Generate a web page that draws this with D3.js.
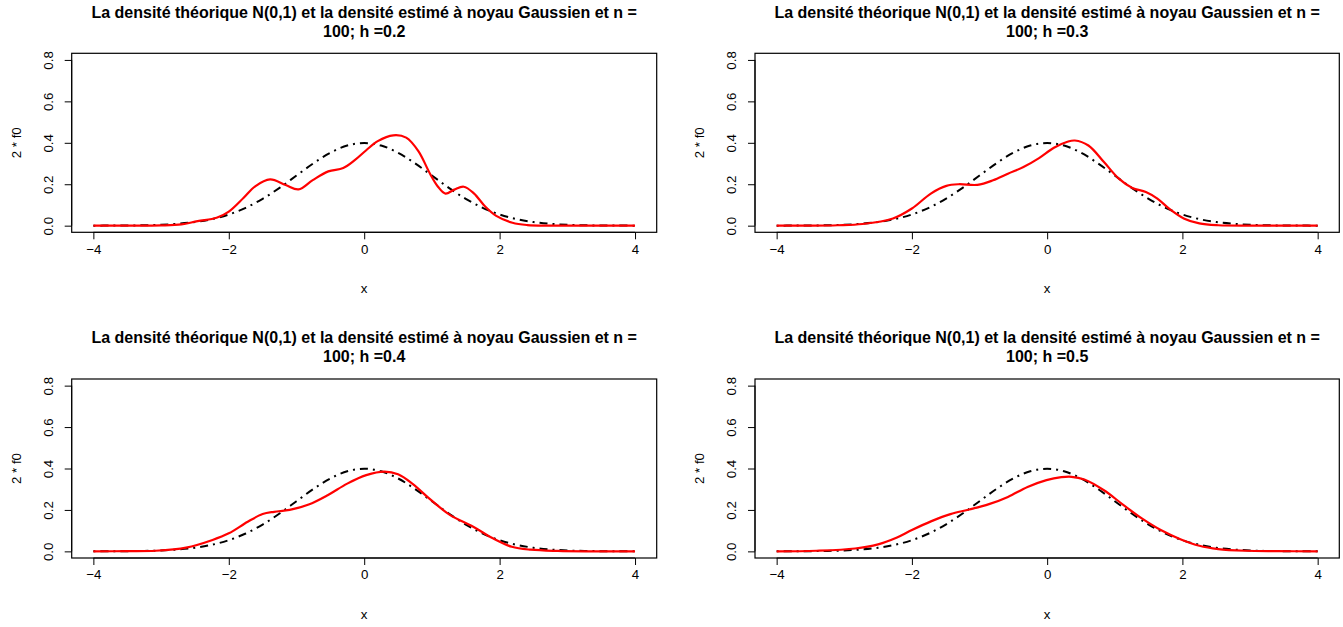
<!DOCTYPE html>
<html>
<head>
<meta charset="utf-8">
<script src="https://cdn.jsdelivr.net/npm/d3@7"></script>
<style>
body { margin:0; background:#fff; }
svg { font-family: "Liberation Sans", Arial, sans-serif; }
</style>
</head>
<body>
<div id="chart"></div>
<script>
// tick values
var xTicks = [-4, -2, 0, 2, 4];
var yTicks = [0, 0.2, 0.4, 0.6, 0.8];
var bandwidths = ["0.2", "0.3", "0.4", "0.5"];

// theoretical N(0,1) density, read at 0.25 steps
var normX = [-4,-3.75,-3.5,-3.25,-3,-2.75,-2.5,-2.25,-2,-1.75,-1.5,-1.25,-1,-0.75,-0.5,-0.25,0,
             0.25,0.5,0.75,1,1.25,1.5,1.75,2,2.25,2.5,2.75,3,3.25,3.5,3.75,4];
var normY = [0.0001,0.0004,0.0009,0.002,0.0044,0.0091,0.0175,0.0317,0.054,0.0863,0.1295,0.1826,0.242,0.3011,0.3521,0.3867,0.3989,
             0.3867,0.3521,0.3011,0.242,0.1826,0.1295,0.0863,0.054,0.0317,0.0175,0.0091,0.0044,0.002,0.0009,0.0004,0.0001];

// kernel estimates [x, y]
var est02 = [[-4,0],[-3.5,0],[-3,0.001],[-2.7,0.006],[-2.46,0.022],[-2.18,0.038],[-2.0,0.068],[-1.78,0.135],[-1.61,0.19],
  [-1.39,0.223],[-1.16,0.196],[-0.97,0.175],[-0.76,0.22],[-0.53,0.262],[-0.31,0.278],[-0.14,0.316],[0.03,0.364],[0.2,0.408],
  [0.43,0.436],[0.62,0.425],[0.8,0.36],[0.97,0.252],[1.09,0.188],[1.2,0.155],[1.33,0.174],[1.47,0.188],[1.62,0.156],
  [1.79,0.091],[1.95,0.047],[2.19,0.014],[2.41,0.003],[2.7,0],[3,0],[3.5,0],[4,0]];
var est03 = [[-4,0],[-3.5,0],[-3.1,0.002],[-2.73,0.008],[-2.28,0.035],[-2.0,0.083],[-1.72,0.155],[-1.49,0.192],[-1.31,0.2],
  [-1.03,0.197],[-0.8,0.219],[-0.58,0.251],[-0.35,0.283],[-0.12,0.326],[0.1,0.376],[0.3,0.405],[0.41,0.411],[0.61,0.387],
  [0.84,0.307],[1.06,0.227],[1.26,0.182],[1.46,0.163],[1.63,0.131],[1.8,0.083],[2.02,0.035],[2.25,0.011],[2.53,0.002],
  [3,0],[3.5,0],[4,0]];
var est04 = [[-4,0],[-3.5,0.001],[-3.08,0.003],[-2.63,0.018],[-2.24,0.055],[-2.0,0.087],[-1.72,0.143],[-1.5,0.18],[-1.33,0.191],
  [-1.1,0.2],[-0.82,0.226],[-0.54,0.271],[-0.25,0.327],[0.03,0.368],[0.3,0.385],[0.5,0.372],[0.71,0.327],[0.99,0.247],
  [1.27,0.175],[1.61,0.119],[1.9,0.063],[2.18,0.022],[2.46,0.008],[2.86,0.002],[3.3,0],[4,0]];
var est05 = [[-4,0],[-3.41,0.003],[-2.84,0.014],[-2.5,0.034],[-2.22,0.067],[-2.0,0.103],[-1.71,0.146],[-1.43,0.18],[-1.15,0.202],
  [-0.86,0.228],[-0.58,0.263],[-0.29,0.311],[-0.01,0.344],[0.21,0.358],[0.36,0.36],[0.55,0.347],[0.84,0.295],[1.12,0.226],
  [1.4,0.159],[1.68,0.103],[1.97,0.059],[2.25,0.027],[2.53,0.011],[2.93,0.003],[3.4,0.001],[4,0]];
var estimates = [est02, est03, est04, est05];

var W = 1343, H = 627;
var svg = d3.select("#chart").append("svg").attr("width", W).attr("height", H);

// plot boxes (left, right, top, bottom)
var boxes = [
  [71.7, 656.7, 53.3, 232.3],
  [755, 1339.3, 53.3, 232.3],
  [71.7, 656.7, 379, 558],
  [755, 1339.3, 379, 558]
];

var normData = normX.map(function(d, i){ return [d, normY[i]]; });

boxes.forEach(function(b, i){
    var x = d3.scaleLinear().domain([-4.32, 4.32]).range([b[0], b[1]]);
    var y = d3.scaleLinear().domain([-0.032, 0.832]).range([b[3], b[2]]);
    var g = svg.append("g");
    var cx = (b[0] + b[1]) / 2;

    // title
    var t = g.append("text").attr("text-anchor", "middle")
        .style("font-weight", "bold").style("font-size", "16px");
    t.append("tspan").attr("x", cx).attr("y", b[2] - 35.7)
        .text("La densité théorique N(0,1) et la densité estimé à noyau Gaussien et n =");
    t.append("tspan").attr("x", cx).attr("y", b[2] - 16.7)
        .text("100; h =" + bandwidths[i]);

    // box
    g.append("rect").attr("x", b[0]).attr("y", b[2])
        .attr("width", b[1] - b[0]).attr("height", b[3] - b[2])
        .attr("fill", "none").attr("stroke", "#000").attr("stroke-width", 1.2);

    // x axis
    var xa = g.append("g").attr("transform", "translate(0," + b[3] + ")")
        .call(d3.axisBottom(x).tickValues(xTicks).tickSize(7).tickPadding(5));
    xa.select(".domain").remove();
    xa.append("line").attr("x1", x(-4)).attr("x2", x(4)).attr("stroke", "#000");
    xa.selectAll("text").style("font-size", "13.3px").attr("fill", "#000").attr("font-family", null);

    // y axis
    var ya = g.append("g").attr("transform", "translate(" + b[0] + ",0)")
        .call(d3.axisLeft(y).tickValues(yTicks).tickSize(7).tickFormat(d3.format(".1f")));
    ya.select(".domain").remove();
    ya.append("line").attr("y1", y(0)).attr("y2", y(0.8)).attr("stroke", "#000");
    ya.selectAll("text").style("font-size", "13.3px").attr("fill", "#000").attr("font-family", null)
        .attr("transform", "rotate(-90)").attr("x", 0).attr("y", -19).attr("dy", null)
        .attr("text-anchor", "middle");

    // axis labels
    g.append("text").attr("x", cx).attr("y", b[3] + 60.5).attr("text-anchor", "middle")
        .style("font-size", "13.3px").text("x");
    g.append("text").attr("transform", "translate(" + (b[0] - 51) + "," + (y(0.4)) + ") rotate(-90)")
        .attr("text-anchor", "middle").style("font-size", "13.3px").text("2 * f0");

    var line = d3.line().x(function(d){ return x(d[0]); }).y(function(d){ return y(d[1]); })
        .curve(d3.curveCatmullRom.alpha(0.5));

    g.append("path").datum(normData).attr("d", line).attr("fill", "none")
        .attr("stroke", "#000").attr("stroke-width", 2).attr("stroke-dasharray", "2,5,8,5");
    g.append("path").datum(estimates[i]).attr("d", line).attr("fill", "none")
        .attr("stroke", "#ff0000").attr("stroke-width", 2.2);
});
</script>
</body>
</html>
